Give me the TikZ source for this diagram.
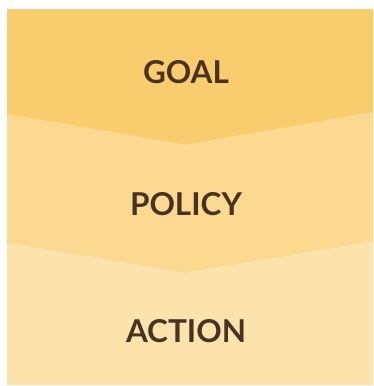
\documentclass[tikz,border=0pt]{standalone}
\usepackage{fontspec}
\setmainfont{Lato}
\usetikzlibrary{positioning}

\definecolor{goalfill}{HTML}{F9CD6E}
\definecolor{policyfill}{HTML}{FBD990}
\definecolor{actionfill}{HTML}{FBE3AB}
\definecolor{labelbrown}{HTML}{4A3222}

\tikzset{
  band/.style = {draw = none},
  bandlabel/.style = {text = labelbrown, font = \fontsize{31.5}{34}\selectfont\bfseries, inner sep = 0pt}
}

\begin{document}
\begin{tikzpicture} [x = 1pt, y = -1pt]
\useasboundingbox (0, 0) rectangle (373, 386);
\fill[white] (0, 0) rectangle (373, 386);
\fill[band, actionfill] (7, 240) -- (186, 272) -- (373, 240) -- (373, 385) -- (7, 385) -- cycle;
\fill[band, policyfill] (7, 112) -- (186, 144) -- (373, 111) -- (373, 241) -- (186, 272.5) -- (7, 242.5) -- cycle;
\fill[band, goalfill] (7, 9) -- (373, 9) -- (373, 112) -- (186, 144.5) -- (7, 114) -- cycle;
\node[bandlabel] (goal) at (186, 72.5){GOAL};
\node[bandlabel] (policy) at (186, 204){POLICY};
\node[bandlabel] (action) at (186, 331){ACTION};
\end{tikzpicture}
\end{document}
